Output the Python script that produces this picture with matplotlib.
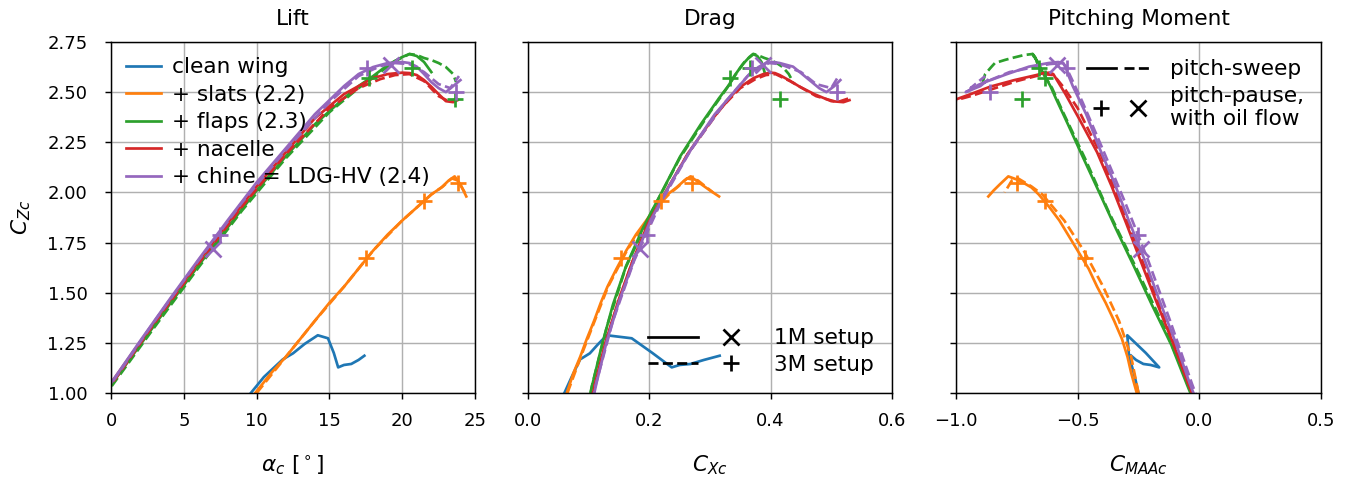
import matplotlib
matplotlib.use("Agg")
import matplotlib.pyplot as plt
from matplotlib.lines import Line2D
from matplotlib.legend_handler import HandlerTuple

# ---- data (alpha [deg], CZ, CX, CM) ----
# clean wing, 1M setup only
clean_alpha = [9.6, 10.5, 11.8, 12.5, 13.3, 14.2, 14.9, 15.3, 15.6, 16.0, 16.5, 17.0, 17.4]
clean_cz = [1.00, 1.08, 1.168, 1.198, 1.245, 1.288, 1.273, 1.20, 1.128, 1.14, 1.145, 1.165, 1.186]
clean_cx = [0.060, 0.072, 0.086, 0.102, 0.116, 0.130, 0.171, 0.205, 0.237, 0.25, 0.268, 0.29, 0.316]
clean_cm = [-0.25, -0.265, -0.285, -0.29, -0.293, -0.296, -0.283, -0.22, -0.165, -0.20, -0.23, -0.26, -0.28]

# + slats
slats_alpha = [9.9, 11, 12, 13, 14, 15, 16, 17, 18, 19, 20, 21, 22, 22.7, 23.2, 23.6, 24.0, 24.2, 24.4]
slats_cz = [1.00, 1.10, 1.18, 1.27, 1.36, 1.45, 1.53, 1.62, 1.71, 1.79, 1.86, 1.925, 1.99, 2.025, 2.06, 2.08, 2.04, 2.01, 1.98]
slats_cx = [0.064, 0.075, 0.086, 0.097, 0.109, 0.12, 0.131, 0.146, 0.162, 0.178, 0.195, 0.21, 0.23, 0.245, 0.258, 0.268, 0.286, 0.30, 0.315]
slats_cm = [-0.257, -0.28, -0.295, -0.318, -0.35, -0.385, -0.42, -0.455, -0.50, -0.54, -0.575, -0.615, -0.66, -0.69, -0.74, -0.785, -0.82, -0.845, -0.867]
slats3_alpha = [10.0, 12, 14, 16, 18, 20, 21, 22, 22.8, 23.4, 23.8, 24.3]
slats3_cz = [1.00, 1.18, 1.36, 1.53, 1.71, 1.86, 1.925, 1.99, 2.03, 2.07, 2.06, 2.0]
slats3_cx = [0.065, 0.087, 0.110, 0.132, 0.163, 0.196, 0.212, 0.232, 0.248, 0.262, 0.28, 0.305]
slats3_cm = [-0.25, -0.28, -0.33, -0.395, -0.475, -0.555, -0.60, -0.645, -0.69, -0.745, -0.77, -0.80]

# + flaps
flaps_alpha = [-2, 0, 2, 4, 6, 8, 10, 12, 14, 16, 17, 18, 19, 20, 20.5, 21, 21.5, 22]
flaps_cz = [0.80, 1.04, 1.24, 1.44, 1.635, 1.825, 2.01, 2.18, 2.34, 2.47, 2.53, 2.58, 2.635, 2.675, 2.69, 2.68, 2.65, 2.60]
flaps_cx = [0.09, 0.106, 0.122, 0.14, 0.162, 0.19, 0.222, 0.251, 0.285, 0.315, 0.33, 0.34, 0.353, 0.365, 0.371, 0.378, 0.385, 0.39]
flaps_cm = [0.03, -0.05, -0.115, -0.195, -0.27, -0.345, -0.415, -0.48, -0.54, -0.59, -0.612, -0.635, -0.66, -0.675, -0.685, -0.68, -0.665, -0.645]
flaps3_alpha = [-2, 0, 3, 6, 9, 12, 15, 17, 18.5, 19.5, 20.5, 21, 21.5, 22, 22.5, 23, 23.5, 23.7]
flaps3_cz = [0.79, 1.03, 1.33, 1.625, 1.91, 2.17, 2.40, 2.52, 2.60, 2.655, 2.69, 2.685, 2.67, 2.66, 2.645, 2.625, 2.59, 2.55]
flaps3_cx = [0.089, 0.105, 0.13, 0.161, 0.205, 0.25, 0.30, 0.328, 0.345, 0.358, 0.372, 0.378, 0.39, 0.40, 0.41, 0.42, 0.43, 0.437]
flaps3_cm = [0.04, -0.04, -0.145, -0.26, -0.375, -0.47, -0.56, -0.605, -0.645, -0.67, -0.685, -0.72, -0.77, -0.80, -0.84, -0.855, -0.88, -0.89]

# + nacelle
nac_alpha = [-2, 0, 2, 4, 6, 8, 10, 12, 14, 16, 17, 18, 19, 20, 20.5, 21, 21.5, 22, 22.5, 23, 23.5, 23.8]
nac_cz = [0.83, 1.05, 1.255, 1.46, 1.655, 1.845, 2.03, 2.2, 2.37, 2.49, 2.53, 2.57, 2.59, 2.597, 2.595, 2.585, 2.56, 2.527, 2.49, 2.455, 2.45, 2.46]
nac_cx = [0.095, 0.111, 0.128, 0.149, 0.172, 0.198, 0.232, 0.265, 0.305, 0.338, 0.352, 0.372, 0.388, 0.40, 0.407, 0.415, 0.43, 0.448, 0.472, 0.50, 0.52, 0.53]
nac_cm = [0.025, -0.047, -0.11, -0.178, -0.24, -0.30, -0.36, -0.42, -0.495, -0.55, -0.57, -0.59, -0.60, -0.615, -0.64, -0.67, -0.76, -0.86, -0.94, -1.02, -1.05, -1.07]
nac3_alpha = [-2, 0, 3, 6, 9, 12, 15, 17, 18.5, 19.5, 20.5, 21.5, 22.5, 23.3, 23.8]
nac3_cz = [0.82, 1.04, 1.35, 1.645, 1.93, 2.19, 2.42, 2.52, 2.565, 2.585, 2.59, 2.555, 2.48, 2.45, 2.47]
nac3_cx = [0.094, 0.11, 0.138, 0.171, 0.214, 0.263, 0.318, 0.35, 0.375, 0.392, 0.408, 0.432, 0.475, 0.51, 0.53]
nac3_cm = [0.035, -0.04, -0.135, -0.23, -0.32, -0.405, -0.50, -0.555, -0.585, -0.60, -0.64, -0.75, -0.94, -1.03, -1.06]

# + chine = LDG-HV
ldg_alpha = [-2, 0, 2, 4, 6, 8, 10, 12, 14, 16, 17, 18, 19, 20, 20.5, 21, 21.5, 22, 22.5, 23, 23.5, 24]
ldg_cz = [0.83, 1.05, 1.26, 1.465, 1.665, 1.86, 2.05, 2.22, 2.39, 2.53, 2.59, 2.625, 2.645, 2.65, 2.645, 2.627, 2.59, 2.55, 2.52, 2.50, 2.53, 2.56]
ldg_cx = [0.097, 0.113, 0.13, 0.151, 0.175, 0.202, 0.236, 0.27, 0.308, 0.348, 0.365, 0.38, 0.392, 0.405, 0.415, 0.437, 0.452, 0.468, 0.48, 0.492, 0.505, 0.515]
ldg_cm = [0.03, -0.04, -0.10, -0.165, -0.225, -0.29, -0.35, -0.41, -0.465, -0.52, -0.54, -0.55, -0.56, -0.58, -0.62, -0.70, -0.79, -0.88, -0.93, -0.96, -0.90, -0.87]
ldg3_alpha = [-2, 0, 3, 6, 9, 12, 15, 17, 18.5, 19.5, 20.5, 21.5, 22.5, 23.3, 23.9]
ldg3_cz = [0.82, 1.045, 1.36, 1.66, 1.95, 2.21, 2.45, 2.58, 2.63, 2.645, 2.64, 2.60, 2.54, 2.52, 2.58]
ldg3_cx = [0.096, 0.112, 0.14, 0.175, 0.219, 0.268, 0.325, 0.362, 0.385, 0.398, 0.415, 0.45, 0.475, 0.50, 0.512]
ldg3_cm = [0.04, -0.03, -0.12, -0.21, -0.305, -0.395, -0.48, -0.53, -0.55, -0.56, -0.615, -0.78, -0.90, -0.94, -0.88]

# pitch-pause points (+ = 3M setup, x = 1M setup)
slats_plus = dict(alpha=[17.5, 21.5, 23.8], cz=[1.675, 1.955, 2.045], cx=[0.154, 0.220, 0.27], cm=[-0.47, -0.634, -0.75])
flaps_plus = dict(alpha=[17.7, 20.7, 23.6], cz=[2.57, 2.62, 2.467], cx=[0.333, 0.366, 0.415], cm=[-0.634, -0.66, -0.73])
ldg_plus = dict(alpha=[7.5, 17.6, 23.7], cz=[1.79, 2.62, 2.50], cx=[0.196, 0.37, 0.509], cm=[-0.25, -0.545, -0.86])
ldg_cross = dict(alpha=[7.0, 19.2], cz=[1.72, 2.635], cx=[0.185, 0.388], cm=[-0.24, -0.586])

labels = ['clean wing', '+ slats (2.2)', '+ flaps (2.3)', '+ nacelle', '+ chine = LDG-HV (2.4)']
colors = ['C0', 'C1', 'C2', 'C3', 'C4']

fig = plt.figure(figsize=(1351 / 130, 477 / 130), dpi=130)
ax1 = fig.add_axes([0.0822, 0.176, 0.2694, 0.736])
ax2 = fig.add_axes([0.3908, 0.176, 0.2694, 0.736])
ax3 = fig.add_axes([0.7076, 0.176, 0.2702, 0.736])


def plot_config(alpha, cz, cx, cm, color, ls='-', label=None):
    h, = ax1.plot(alpha, cz, color=color, ls=ls, label=label)
    ax2.plot(cx, cz, color=color, ls=ls)
    ax3.plot(cm, cz, color=color, ls=ls)
    return h


def plot_points(pts, color, marker):
    kw = dict(color=color, marker=marker, ls='none', ms=9, mew=1.5)
    ax1.plot(pts['alpha'], pts['cz'], **kw)
    ax2.plot(pts['cx'], pts['cz'], **kw)
    ax3.plot(pts['cm'], pts['cz'], **kw)


handles = []
handles.append(plot_config(clean_alpha, clean_cz, clean_cx, clean_cm, colors[0], label=labels[0]))
handles.append(plot_config(slats_alpha, slats_cz, slats_cx, slats_cm, colors[1], label=labels[1]))
plot_config(slats3_alpha, slats3_cz, slats3_cx, slats3_cm, colors[1], ls='--')
handles.append(plot_config(flaps_alpha, flaps_cz, flaps_cx, flaps_cm, colors[2], label=labels[2]))
plot_config(flaps3_alpha, flaps3_cz, flaps3_cx, flaps3_cm, colors[2], ls='--')
handles.append(plot_config(nac_alpha, nac_cz, nac_cx, nac_cm, colors[3], label=labels[3]))
plot_config(nac3_alpha, nac3_cz, nac3_cx, nac3_cm, colors[3], ls='--')
handles.append(plot_config(ldg_alpha, ldg_cz, ldg_cx, ldg_cm, colors[4], label=labels[4]))
plot_config(ldg3_alpha, ldg3_cz, ldg3_cx, ldg3_cm, colors[4], ls='--')

plot_points(slats_plus, colors[1], '+')
plot_points(flaps_plus, colors[2], '+')
plot_points(ldg_plus, colors[4], '+')
plot_points(ldg_cross, colors[4], 'x')

# axes setup
for ax in (ax1, ax2, ax3):
    ax.set_ylim(1.0, 2.75)
    ax.set_yticks([1.0, 1.25, 1.5, 1.75, 2.0, 2.25, 2.5, 2.75])
    ax.grid(True)
    ax.tick_params(axis='y', pad=9.5)
    ax.tick_params(axis='x', pad=7)
ax2.tick_params(labelleft=False)
ax3.tick_params(labelleft=False)

ax1.set_xlim(0, 25)
ax1.set_xticks([0, 5, 10, 15, 20, 25])
ax2.set_xlim(0, 0.6)
ax2.set_xticks([0.0, 0.2, 0.4, 0.6])
ax3.set_xlim(-1.0, 0.5)
ax3.set_xticks([-1.0, -0.5, 0.0, 0.5])

ax1.set_title('Lift', pad=9.5)
ax2.set_title('Drag', pad=9.5)
ax3.set_title('Pitching Moment', pad=9.5)
ax1.set_ylabel('$C_{Zc}$', fontsize=12, labelpad=8)
ax1.set_xlabel(r'$\alpha_c$ [$^\circ$]', fontsize=12, labelpad=13)
ax2.set_xlabel('$C_{Xc}$', fontsize=12, labelpad=13)
ax3.set_xlabel('$C_{MAAc}$', fontsize=12, labelpad=13)

# legends
ax1.legend(handles=handles, loc='upper left', frameon=False, fontsize='large',
           handlelength=1.6, handletextpad=0.5, labelspacing=0.35, borderaxespad=0.3)

solid = Line2D([], [], color='k', ls='-')
dashed = Line2D([], [], color='k', ls='--')
plus = Line2D([], [], color='k', marker='+', ls='none', ms=9, mew=1.5)
cross = Line2D([], [], color='k', marker='x', ls='none', ms=9, mew=1.5)

ax2.legend([(solid, cross), (dashed, plus)], ['1M setup', '3M setup'],
           handler_map={tuple: HandlerTuple(ndivide=None)}, handlelength=5,
           loc='lower right', frameon=False, fontsize='large', labelspacing=0.3,
           borderaxespad=0.45)
ax3.legend([(solid, dashed), (plus, cross)], ['pitch-sweep', 'pitch-pause,\nwith oil flow'],
           handler_map={tuple: HandlerTuple(ndivide=None)}, handlelength=3,
           loc='upper right', frameon=False, fontsize='large', labelspacing=0.3,
           borderaxespad=0.4)

fig.savefig('out.png', dpi=130)
